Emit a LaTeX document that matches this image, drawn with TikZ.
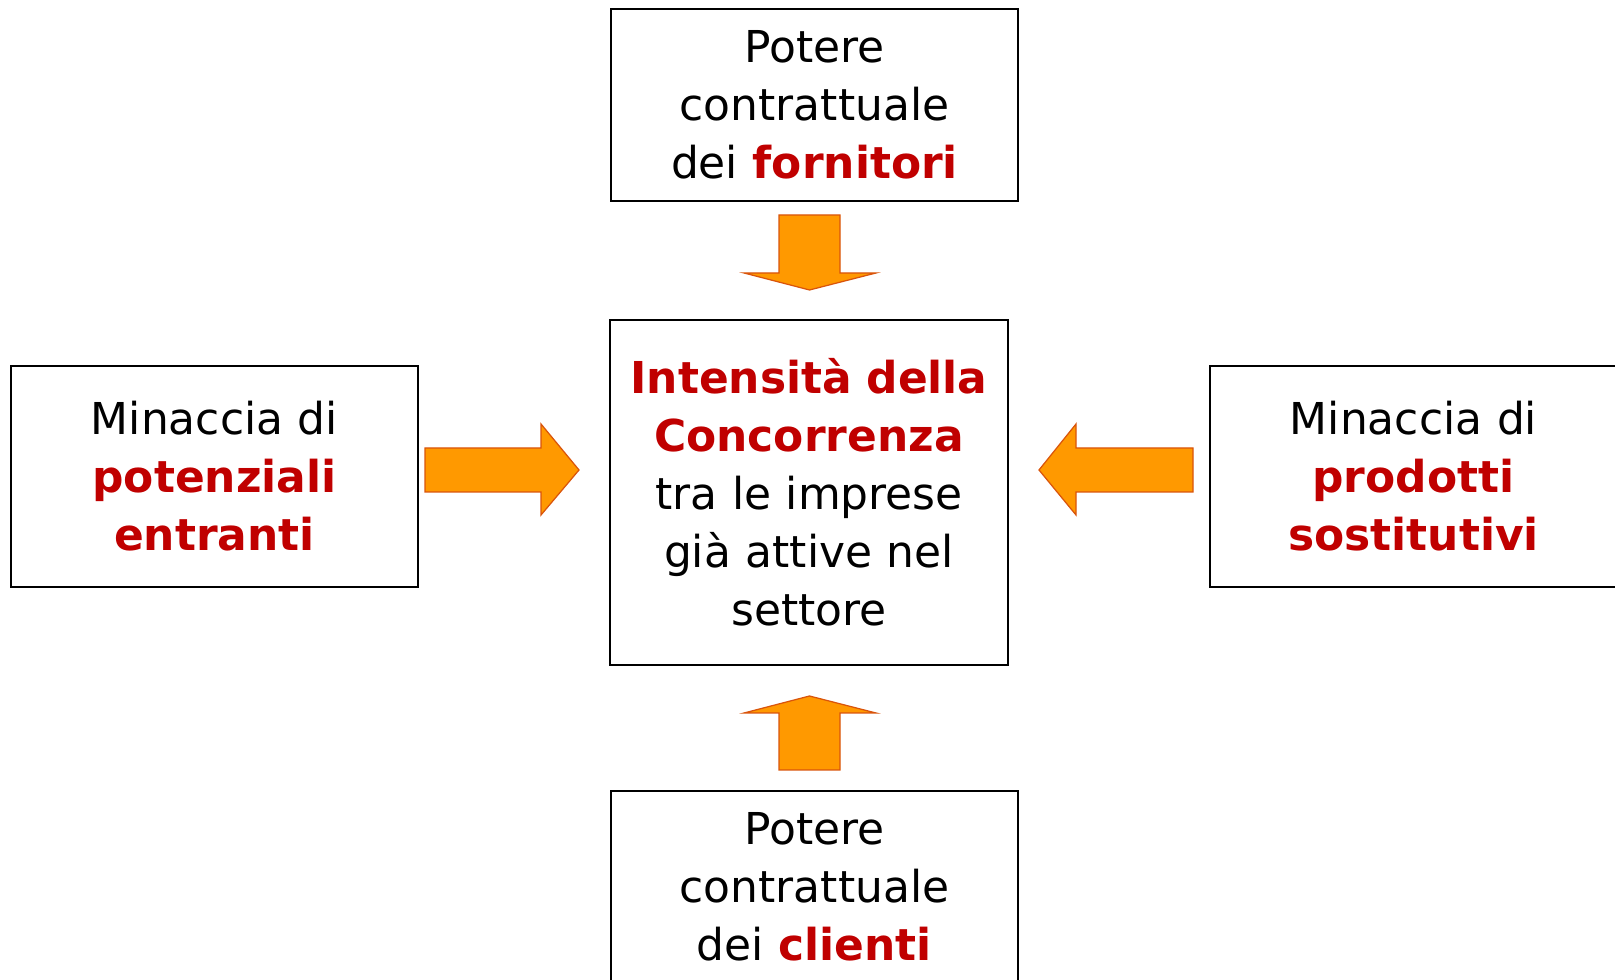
\documentclass[tikz,border=0pt]{standalone}
\usepackage{fontspec}
\setmainfont{DejaVu Sans}
\usepackage{tikz}
\usetikzlibrary{calc}
\definecolor{rosso}{HTML}{C00000}
\definecolor{arancio}{HTML}{FF9900}
\definecolor{bordoarancio}{HTML}{D9540B}
\newcommand{\forza}[1]{\textcolor{rosso}{\bfseries #1}}

\begin{document}
\begin{tikzpicture}[
	riquadro/.style={draw=black, line width=0.9pt, fill=white, inner sep=0pt,
		align=center, text width=7.4cm, minimum width=8.14cm,
		font=\fontsize{25}{33}\selectfont},
	freccia/.style={fill=arancio, draw=bordoarancio, line width=0.7pt, line join=miter}]
			%%%%% START %%%%%
			\useasboundingbox (0, 0) rectangle (32.3, 19.6);
			\clip (0, 0) rectangle (32.3, 19.6);
			
			\node[riquadro, minimum height=3.84cm] (fornitori) at (16.29, 17.5)
				{Potere\\contrattuale\\dei \forza{fornitori}};
			\node[riquadro, minimum width=7.96cm, minimum height=6.9cm] (concorrenza) at (16.18, 9.75)
				{\forza{Intensità della}\\\forza{Concorrenza}\\tra le imprese\\già attive nel\\settore};
			\node[riquadro, minimum height=4.42cm] (entranti) at (4.29, 10.07)
				{Minaccia di\\\forza{potenziali}\\\forza{entranti}};
			\node[riquadro, minimum height=4.42cm] (sostitutivi) at (28.27, 10.07)
				{Minaccia di\\\forza{prodotti}\\\forza{sostitutivi}};
			\node[riquadro, minimum height=3.84cm] (clienti) at (16.29, 1.86)
				{Potere\\contrattuale\\dei \forza{clienti}};
			
			% frecce verso il centro
			\draw[freccia] (15.58, 15.3) -- (16.8, 15.3) -- (16.8, 14.14) -- (17.52, 14.14)
				-- (16.19, 13.8) -- (14.88, 14.14) -- (15.58, 14.14) -- cycle;
			\draw[freccia] (15.58, 4.2) -- (16.8, 4.2) -- (16.8, 5.34) -- (17.52, 5.34)
				-- (16.19, 5.68) -- (14.88, 5.34) -- (15.58, 5.34) -- cycle;
			\draw[freccia] (8.5, 10.64) -- (10.82, 10.64) -- (10.82, 11.12) -- (11.58, 10.2)
				-- (10.82, 9.3) -- (10.82, 9.76) -- (8.5, 9.76) -- cycle;
			\draw[freccia] (23.86, 10.64) -- (21.52, 10.64) -- (21.52, 11.12) -- (20.78, 10.2)
				-- (21.52, 9.3) -- (21.52, 9.76) -- (23.86, 9.76) -- cycle;
			%%%%% END %%%%%
		\end{tikzpicture}
\end{document}
